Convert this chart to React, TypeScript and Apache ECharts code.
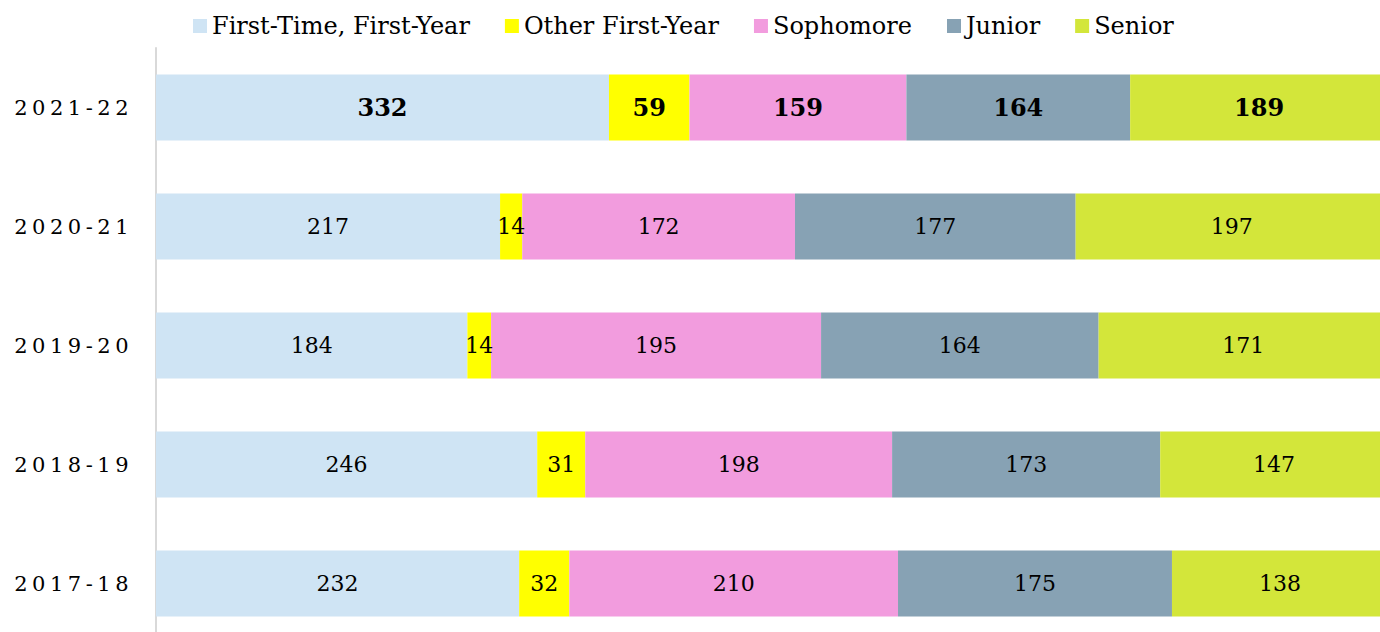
import React, { useEffect, useRef } from "react";
import * as echarts from "echarts";

const years = ["2021-22", "2020-21", "2019-20", "2018-19", "2017-18"];
const seriesNames = ["First-Time, First-Year", "Other First-Year", "Sophomore", "Junior", "Senior"];
const firstTime = [332, 217, 184, 246, 232];
const otherFirst = [59, 14, 14, 31, 32];
const sophomore = [159, 172, 195, 198, 210];
const junior = [164, 177, 164, 173, 175];
const senior = [189, 197, 171, 147, 138];
const colors = ["#CFE4F4", "#FFFF00", "#F29CDE", "#87A2B4", "#D3E63A"];

export default function App() {
  const ref = useRef<HTMLDivElement>(null);
  useEffect(() => {
    if (!ref.current) return;
    const chart = echarts.init(ref.current, undefined, { renderer: "svg" });
    const raw = [firstTime, otherFirst, sophomore, junior, senior];
    const totals = years.map((_, i) => raw.reduce((s, arr) => s + arr[i], 0));
    const font = "'DejaVu Serif', serif";
    const series = raw.map((arr, si) => ({
      name: seriesNames[si],
      type: "bar",
      stack: "total",
      barCategoryGap: "44.5%",
      itemStyle: { color: colors[si] },
      label: {
        show: true,
        position: "inside",
        color: "#000",
        fontFamily: font,
        fontSize: 22,
        formatter: (p: any) => String(arr[p.dataIndex]),
      },
      data: arr.map((v, i) => ({
        value: (v / totals[i]) * 100,
        label: i === 0 ? { fontWeight: "bold", fontSize: 24 } : undefined,
      })),
    }));
    chart.setOption({
      animation: false,
      legend: {
        top: 9,
        left: 188,
        itemWidth: 14,
        itemHeight: 14,
        itemGap: 35,
        icon: "rect",
        textStyle: { fontFamily: font, fontSize: 24, color: "#000" },
        data: seriesNames,
      },
      grid: { left: 156, width: 1232, top: 48, height: 595 },
      xAxis: { type: "value", min: 0, max: 100, show: false },
      yAxis: {
        type: "category",
        inverse: true,
        data: years,
        axisLine: { show: true, lineStyle: { color: "#D9D9D9", width: 2 } },
        axisTick: { show: false },
        axisLabel: { fontFamily: font, fontSize: 21, color: "#000", margin: 23 },
      },
      series,
    });
    return () => chart.dispose();
  }, []);
  return (
    <div style={{ width: 1380, height: 632, position: "absolute", left: 0, top: 0, overflow: "hidden" }}>
      <style>{`text[text-anchor="end"]{letter-spacing:4.5px;}`}</style>
      <div ref={ref} style={{ width: 1400, height: 660 }} />
    </div>
  );
}
